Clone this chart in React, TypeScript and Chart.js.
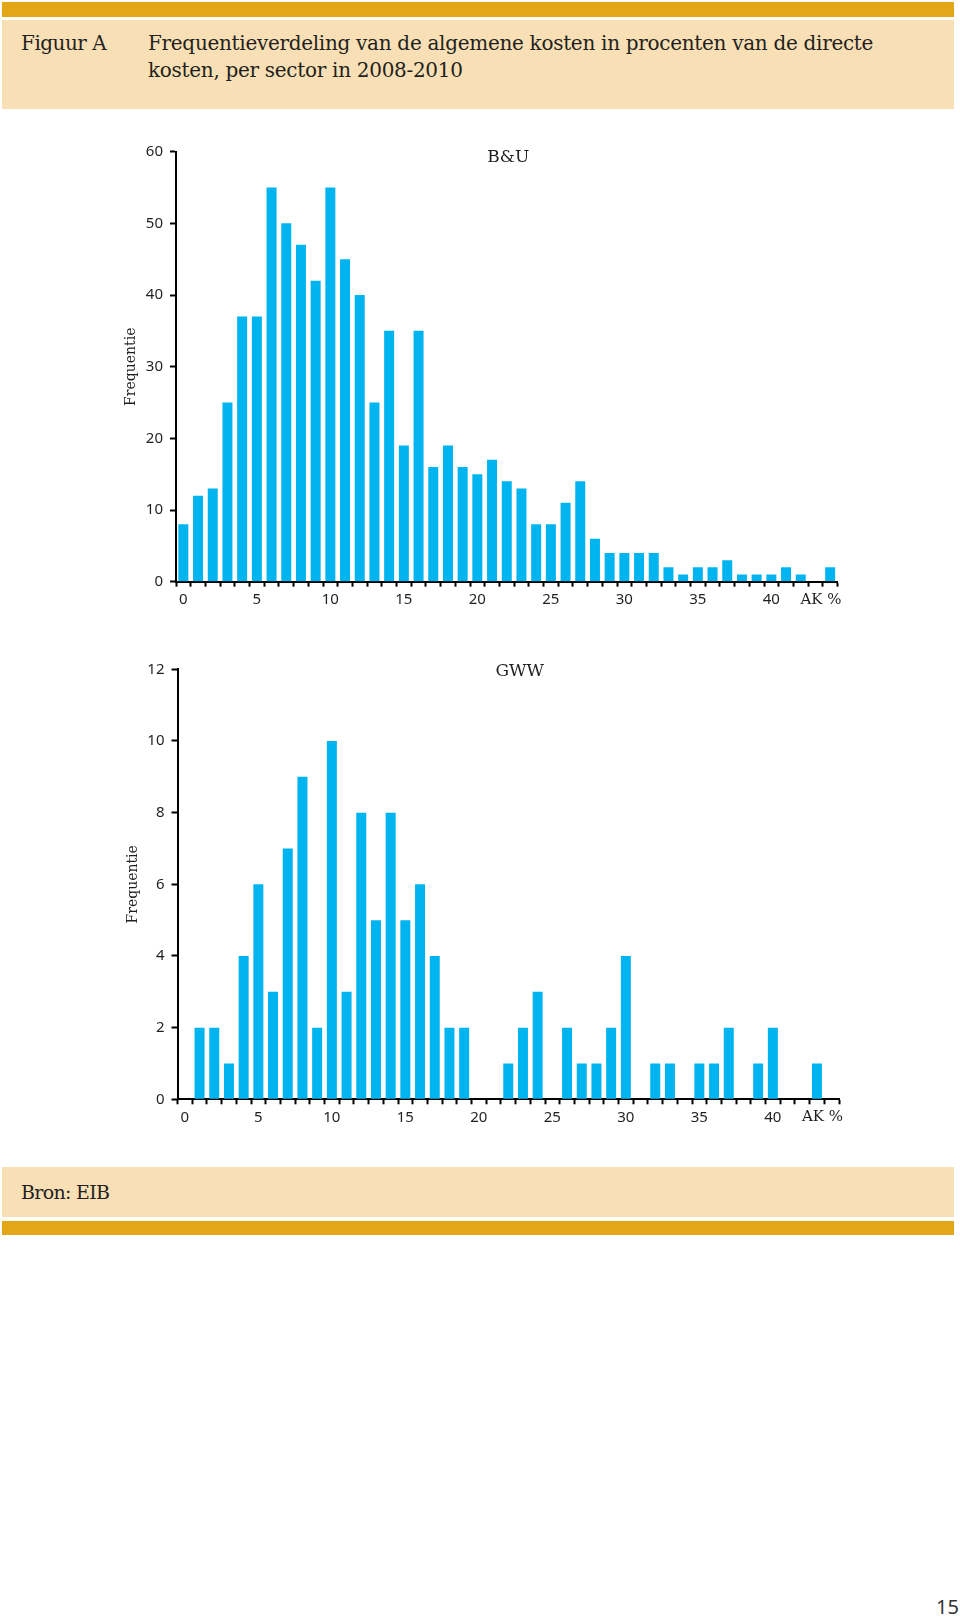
import React, { useEffect, useRef } from 'react';
import { Chart, registerables } from 'chart.js';

Chart.register(...registerables);

// ---- Data ----
const categories = [
  '0', '1', '2', '3', '4', '5', '6', '7', '8', '9',
  '10', '11', '12', '13', '14', '15', '16', '17', '18', '19',
  '20', '21', '22', '23', '24', '25', '26', '27', '28', '29',
  '30', '31', '32', '33', '34', '35', '36', '37', '38', '39',
  '40', '41', '42', '43', '44',
];
const xTickLabels = ['0', '5', '10', '15', '20', '25', '30', '35', '40'];
const xUnitLabel = 'AK %';

const buValues = [
  8, 12, 13, 25, 37, 37, 55, 50, 47, 42,
  55, 45, 40, 25, 35, 19, 35, 16, 19, 16,
  15, 17, 14, 13, 8, 8, 11, 14, 6, 4,
  4, 4, 4, 2, 1, 2, 2, 3, 1, 1,
  1, 2, 1, 0, 2,
];
const gwwValues = [
  0, 2, 2, 1, 4, 6, 3, 7, 9, 2,
  10, 3, 8, 5, 8, 5, 6, 4, 2, 2,
  0, 0, 1, 2, 3, 0, 2, 1, 1, 2,
  4, 0, 1, 1, 0, 1, 1, 2, 0, 1,
  2, 0, 0, 1, 0,
];
const buYTicks = { max: 60, step: 10 };
const gwwYTicks = { max: 12, step: 2 };

const figureLabel = 'Figuur A';
const titleLines = [
  'Frequentieverdeling van de algemene kosten in procenten van de directe',
  'kosten, per sector in 2008-2010',
];
const yAxisTitle = 'Frequentie';
const sourceText = 'Bron: EIB';
const pageNumber = '15';

// ---- Styles ----
const BAR_COLOR = '#00B4EF';
const BEIGE = '#F8DFB5';
const ORANGE = '#E4A516';
const TEXT = '#231F20';
const SERIF = '"DejaVu Serif", serif';
const SANS = '"Noto Sans", sans-serif';

const panelTextPlugin = {
  id: 'panelText',
  afterDraw(chart: any, _args: any, opts: any) {
    const { ctx, chartArea } = chart;
    ctx.save();
    ctx.fillStyle = TEXT;
    ctx.font = '17px ' + SERIF;
    ctx.textAlign = 'center';
    ctx.textBaseline = 'middle';
    ctx.fillText(opts.label, (chartArea.left + chartArea.right) / 2 + opts.dx, chartArea.top + opts.dy);
    ctx.font = '15px ' + SERIF;
    ctx.textAlign = 'right';
    ctx.fillText(xUnitLabel, chartArea.right + 4, chartArea.bottom + 18);
    ctx.restore();
  },
};

type PanelProps = {
  values: number[];
  yMax: number;
  yStep: number;
  label: string;
  top: number;
  height: number;
  padding: { left: number; right: number; top: number; bottom: number };
  labelDx: number;
  labelDy: number;
};

function Panel(p: PanelProps) {
  const ref = useRef<HTMLCanvasElement | null>(null);
  useEffect(() => {
    if (!ref.current) return;
    const chart = new Chart(ref.current, {
      type: 'bar',
      data: {
        labels: categories,
        datasets: [
          {
            data: p.values,
            backgroundColor: BAR_COLOR,
            borderWidth: 0,
            barPercentage: 0.68,
            categoryPercentage: 1.0,
          },
        ],
      },
      options: {
        responsive: false,
        animation: false,
        devicePixelRatio: 1,
        layout: { padding: p.padding },
        plugins: {
          legend: { display: false },
          tooltip: { enabled: false },
          title: { display: false },
          panelText: { label: p.label, dx: p.labelDx, dy: p.labelDy },
        } as any,
        scales: {
          x: {
            type: 'category',
            offset: true,
            grid: {
              offset: true,
              drawOnChartArea: false,
              drawTicks: true,
              tickLength: 5,
              tickWidth: 2,
              tickColor: '#000',
            },
            border: { display: true, color: '#000', width: 2 },
            ticks: {
              autoSkip: false,
              maxRotation: 0,
              minRotation: 0,
              padding: 4,
              color: TEXT,
              font: { family: SANS, size: 15 },
              callback: (_v: any, i: number) =>
                xTickLabels.includes(categories[i]) ? categories[i] : '',
            },
            afterFit: (s: any) => {
              s.height = 40;
            },
          },
          y: {
            min: 0,
            max: p.yMax,
            grid: {
              drawOnChartArea: false,
              drawTicks: true,
              tickLength: 6,
              tickWidth: 2,
              tickColor: '#000',
            },
            border: { display: true, color: '#000', width: 2 },
            ticks: {
              stepSize: p.yStep,
              padding: 7,
              color: TEXT,
              font: { family: SANS, size: 15 },
            },
            title: {
              display: true,
              text: yAxisTitle,
              color: TEXT,
              font: { family: SERIF, size: 14 },
              padding: { top: 17.3, bottom: 0 },
            },
            afterFit: (s: any) => {
              s.width = 70;
            },
          },
        },
      },
      plugins: [panelTextPlugin],
    } as any);
    return () => chart.destroy();
  }, []);
  return (
    <canvas
      ref={ref}
      width={960}
      height={p.height}
      style={{ position: 'absolute', left: 0, top: p.top, width: 960, height: p.height }}
    />
  );
}

export default function App() {
  const textBase: React.CSSProperties = {
    position: 'absolute',
    fontFamily: SERIF,
    fontSize: 20,
    lineHeight: '27px',
    color: TEXT,
    whiteSpace: 'nowrap',
  };
  return (
    <div
      style={{
        position: 'absolute',
        left: 0,
        top: 0,
        width: 960,
        height: 1618,
        background: '#fff',
        overflow: 'hidden',
      }}
    >
      <div style={{ position: 'absolute', left: 2, top: 2, width: 952, height: 15, background: ORANGE }} />
      <div style={{ position: 'absolute', left: 2, top: 20, width: 952, height: 89, background: BEIGE }} />
      <div style={{ ...textBase, left: 21, top: 29.6, letterSpacing: '-0.5px' }}>{figureLabel}</div>
      <div style={{ ...textBase, left: 148, top: 29.6, letterSpacing: '-0.3px' }}>
        {titleLines.map((t, i) => (
          <div key={i}>{t}</div>
        ))}
      </div>

      <Panel
        values={buValues}
        yMax={buYTicks.max}
        yStep={buYTicks.step}
        label="B&U"
        top={120}
        height={510}
        padding={{ left: 106, right: 122.5, top: 31.7, bottom: 8.3 }}
        labelDx={1.5}
        labelDy={6.3}
      />
      <Panel
        values={gwwValues}
        yMax={gwwYTicks.max}
        yStep={gwwYTicks.step}
        label="GWW"
        top={640}
        height={510}
        padding={{ left: 107.5, right: 121, top: 29.3, bottom: 10.7 }}
        labelDx={11.5}
        labelDy={2.4}
      />

      <div style={{ position: 'absolute', left: 2, top: 1167, width: 952, height: 50, background: BEIGE }} />
      <div style={{ position: 'absolute', left: 2, top: 1221, width: 952, height: 14, background: ORANGE }} />
      <div style={{ ...textBase, left: 21, top: 1178.5, fontSize: 19, letterSpacing: '-0.7px' }}>{sourceText}</div>
      <div
        style={{
          position: 'absolute',
          left: 936,
          top: 1596,
          fontFamily: SANS,
          fontSize: 20,
          lineHeight: '21px',
          color: '#333',
        }}
      >
        {pageNumber}
      </div>
    </div>
  );
}
